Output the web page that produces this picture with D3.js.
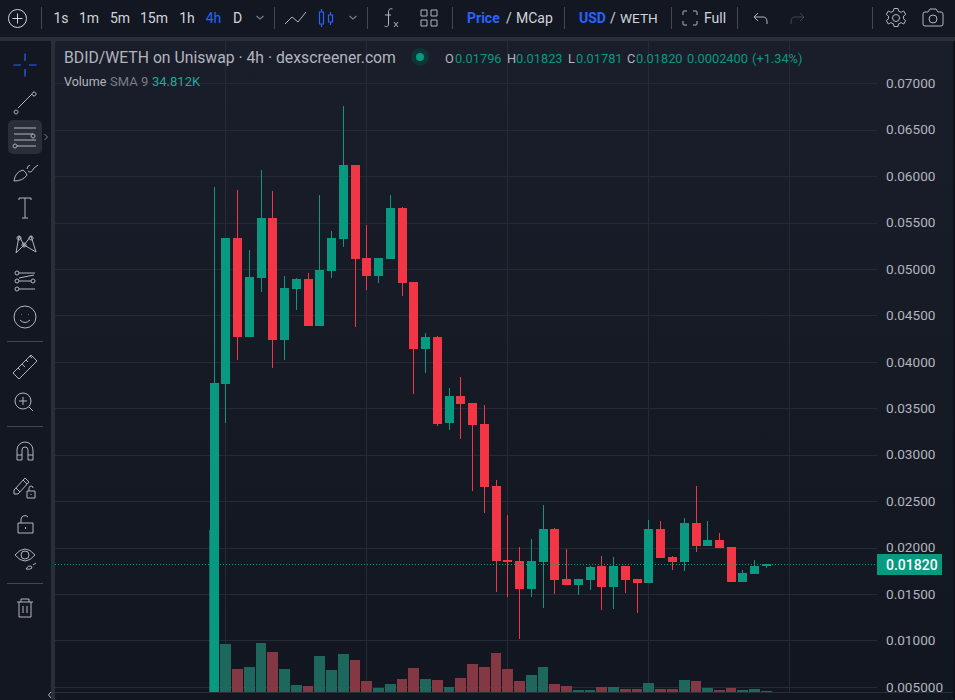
<!DOCTYPE html>
<html>
<head>
<meta charset="utf-8">
<script src="https://cdn.jsdelivr.net/npm/d3@7"></script>
<style>
  html, body { margin: 0; padding: 0; background: #2a2e39; overflow: hidden; }
  text { font-family: Roboto, sans-serif; }
</style>
</head>
<body>
<svg id="chart" width="955" height="700"></svg>
<script>
// BDID/WETH 4h candles
const opens = [0.00435,0.03759,0.05331,0.04265,0.04900,0.05546,0.04232,0.04782,0.04889,0.04383,0.04975,0.05320,0.06117,0.05115,0.04922,0.05105,0.05654,0.04857,0.04135,0.04265,0.03338,0.03629,0.03554,0.03328,0.02660,0.01863,0.01852,0.01551,0.01842,0.02197,0.01659,0.01594,0.01648,0.01799,0.01572,0.01799,0.01659,0.01615,0.02197,0.01895,0.01842,0.02262,0.02014,0.02079,0.02003,0.01626,0.01712,0.01796];
const highs = [0.05880,0.05331,0.05848,0.05202,0.06063,0.05837,0.04922,0.04900,0.04954,0.05793,0.05406,0.06752,0.06117,0.05471,0.05115,0.05794,0.05665,0.04857,0.04308,0.04275,0.03715,0.03834,0.03554,0.03532,0.02725,0.02348,0.02003,0.02089,0.02455,0.02208,0.01982,0.01659,0.01799,0.01906,0.01895,0.01799,0.01659,0.02294,0.02283,0.01906,0.02315,0.02655,0.02283,0.02154,0.02003,0.01755,0.01863,0.01823];
const lows = [0.00435,0.03340,0.04017,0.04265,0.04749,0.03931,0.04017,0.04555,0.04383,0.04383,0.04900,0.05234,0.04372,0.04771,0.04846,0.05105,0.04706,0.03651,0.03877,0.03306,0.03263,0.03166,0.02606,0.02369,0.01519,0.01465,0.01012,0.01465,0.01346,0.01497,0.01594,0.01486,0.01540,0.01325,0.01335,0.01508,0.01292,0.01615,0.01885,0.01755,0.01745,0.01949,0.02014,0.01992,0.01626,0.01626,0.01712,0.01781];
const closes = [0.03769,0.05331,0.04265,0.04911,0.05546,0.04232,0.04792,0.04889,0.04383,0.04986,0.05331,0.06117,0.05105,0.04922,0.05115,0.05654,0.04846,0.04135,0.04265,0.03328,0.03629,0.03543,0.03317,0.02649,0.01852,0.01842,0.01551,0.01852,0.02197,0.01648,0.01594,0.01659,0.01788,0.01572,0.01799,0.01648,0.01615,0.02197,0.01885,0.01842,0.02262,0.02014,0.02079,0.01992,0.01626,0.01723,0.01799,0.01820];
// volume in thousands
const volumes = [1207,358,171,186,365,298,171,52,45,268,164,283,238,82,30,60,97,179,97,89,37,104,209,186,291,171,82,127,186,60,45,15,15,37,37,22,22,67,22,22,89,82,30,15,30,15,22,7];

const priceTicks = [0.07,0.065,0.06,0.055,0.05,0.045,0.04,0.035,0.03,0.025,0.02,0.015,0.01,0.005];
const priceLabels = ["0.07000","0.06500","0.06000","0.05500","0.05000","0.04500","0.04000","0.03500","0.03000","0.02500","0.02000","0.01500","0.01000","0.005000"];
const timeGridIndex = [1,13,25,37,49];
const lastPrice = 0.0182;

const timeframes = [["1s",61],["1m",89],["5m",120],["15m",154],["1h",187],["4h",213.5],["D",237.5]];

const up = "#089981", down = "#f23645";
const volUp = "#1f6b60", volDown = "#8b3a47";
const axisText = "#b2b5be";

const svg = d3.select("#chart");

const defs = svg.append("defs");
const grad = defs.append("linearGradient").attr("id", "bg").attr("x1", 0).attr("x2", 0).attr("y1", 0).attr("y2", 1);
grad.append("stop").attr("offset", "0%").attr("stop-color", "#1a1e2a");
grad.append("stop").attr("offset", "100%").attr("stop-color", "#121620");
defs.append("clipPath").attr("id", "plot").append("rect").attr("x", 55).attr("y", 41).attr("width", 822).attr("height", 651);

// panels
svg.append("rect").attr("x", 0).attr("y", 0).attr("width", 955).attr("height", 37).attr("fill", "#131722");
svg.append("rect").attr("x", 0).attr("y", 41).attr("width", 51).attr("height", 659).attr("fill", "#131722");
svg.append("rect").attr("x", 55).attr("y", 41).attr("width", 898).attr("height", 659).attr("fill", "url(#bg)").attr("rx", 2);
svg.append("rect").attr("x", 953).attr("y", 41).attr("width", 2).attr("height", 659).attr("fill", "#0f1219");

const x = d3.scaleLinear().domain([1, 49]).range([225.5, 789.5]);
const y = d3.scaleLinear().domain([0.005, 0.07]).range([686.6, 83]);
const yVol = d3.scaleLinear().domain([0, 1207]).range([692, 530]);

const bodyLeft = i => Math.ceil(x(i) - 4.5);
const volLeft = i => Math.ceil(x(i) - 5.5);
const crisp = v => Math.round(v + 0.3) + 0.5;

// grid
const grid = svg.append("g").attr("stroke", "#262a35").attr("stroke-width", 1);
grid.selectAll("line.h").data(priceTicks).join("line").attr("class", "h")
    .attr("x1", 55).attr("x2", 877)
    .attr("y1", d => crisp(y(d))).attr("y2", d => crisp(y(d)));
grid.selectAll("line.v").data(timeGridIndex).join("line").attr("class", "v")
    .attr("x1", d => Math.floor(x(d)) + 0.5).attr("x2", d => Math.floor(x(d)) + 0.5)
    .attr("y1", 41).attr("y2", 692);

const plot = svg.append("g").attr("clip-path", "url(#plot)");

const idx = d3.range(opens.length);
const isUp = i => closes[i] >= opens[i];
const colorOf = i => isUp(i) ? up : down;

// volume
plot.append("g").selectAll("rect").data(idx).join("rect")
    .attr("x", volLeft)
    .attr("width", i => volLeft(i + 1) - volLeft(i) - 1)
    .attr("y", i => Math.round(yVol(volumes[i])))
    .attr("height", i => 692 - Math.round(yVol(volumes[i])))
    .attr("fill", i => isUp(i) ? volUp : volDown)
    .attr("opacity", 0.95);

// wicks
plot.append("g").selectAll("rect").data(idx).join("rect")
    .attr("x", i => bodyLeft(i) + 4)
    .attr("width", 1)
    .attr("y", i => Math.round(y(highs[i])))
    .attr("height", i => Math.round(y(lows[i])) - Math.round(y(highs[i])))
    .attr("fill", colorOf);

// bodies
plot.append("g").selectAll("rect").data(idx).join("rect")
    .attr("x", bodyLeft)
    .attr("width", 9)
    .attr("y", i => Math.round(y(Math.max(opens[i], closes[i]))))
    .attr("height", i => Math.max(1, Math.round(y(Math.min(opens[i], closes[i]))) - Math.round(y(Math.max(opens[i], closes[i])))))
    .attr("fill", colorOf);

// last price line
svg.append("line")
    .attr("x1", 55).attr("x2", 877)
    .attr("y1", Math.round(y(lastPrice)) + 0.5).attr("y2", Math.round(y(lastPrice)) + 0.5)
    .attr("stroke", up).attr("stroke-dasharray", "1 2");

// price axis
const priceAxis = svg.append("g").attr("transform", "translate(877,0)")
    .call(d3.axisRight(y).tickValues(priceTicks).tickSize(0).tickPadding(9)
        .tickFormat((d, i) => priceLabels[i]));
priceAxis.select(".domain").remove();
priceAxis.selectAll("text").attr("font-size", 13.6).attr("dy", "0.33em").attr("fill", axisText).style("font-family", "Roboto, sans-serif");

svg.append("rect").attr("x", 877).attr("y", Math.round(y(lastPrice)) - 10).attr("width", 65).attr("height", 21).attr("fill", up);
svg.append("text").attr("x", 886).attr("y", Math.round(y(lastPrice)) + 5.5).attr("font-size", 14).attr("font-weight", 500).attr("fill", "#fff").text(lastPrice.toFixed(5));

// bottom axis line
svg.append("rect").attr("x", 55).attr("y", 692).attr("width", 898).attr("height", 1).attr("fill", "#2a2e39");

// legend
const label = (tx, ty, str, size, fill, weight) => svg.append("text").attr("x", tx).attr("y", ty)
    .attr("font-size", size).attr("fill", fill).attr("font-weight", weight || 400).text(str);

label(64, 63, "BDID/WETH on Uniswap · 4h · dexscreener.com", 15.75, "#b2b5be");
svg.append("circle").attr("cx", 420).attr("cy", 57).attr("r", 9).attr("fill", "#0e3434");
svg.append("circle").attr("cx", 420).attr("cy", 57).attr("r", 4).attr("fill", up);
[["O", 445, "0.01796", 455], ["H", 507, "0.01823", 516], ["L", 568, "0.01781", 576], ["C", 627, "0.01820", 636]].forEach(d => {
    label(d[1], 63, d[0], 12.8, "#b2b5be");
    label(d[3], 63, d[2], 12.8, up);
});
label(687, 63, "0.0002400", 12.8, up);
label(752, 63, "(+1.34%)", 12.8, up);
label(64, 86, "Volume", 12.5, "#b2b5be");
label(110, 86, "SMA 9", 13, "#787b86");
label(152, 86, "34.812K", 13, "#26a69a");

// top toolbar
const textC = "#d1d4dc", blue = "#2962ff";
timeframes.forEach(d => {
    label(d[1], 23, d[0], 14, d[0] === "4h" ? blue : textC, 400).attr("text-anchor", "middle");
});
[41.5, 274.5, 367.5, 452.5, 564.5, 671.5, 737.5, 872.5].forEach(sx => {
    svg.append("rect").attr("x", Math.floor(sx)).attr("y", 7).attr("width", 1).attr("height", 22).attr("fill", "#434651");
});
label(467, 23, "Price", 14, blue, 700);
label(506, 23, "/", 14, textC);
label(516, 23, "MCap", 14, textC, 400);
label(579, 23, "USD", 14, blue, 700);
label(610, 23, "/", 14, textC);
label(620, 23, "WETH", 13.6, textC, 400);
label(704, 23, "Full", 14, textC, 400);

const icon = (tx, ty, d, stroke, sw) => svg.append("path").attr("transform", `translate(${tx},${ty})`)
    .attr("d", d).attr("fill", "none").attr("stroke", stroke || axisText).attr("stroke-width", sw || 1);

icon(17.5, 18.5, "M-9 0a9 9 0 1 0 18 0a9 9 0 1 0 -18 0M-5 0H5M0 -5V5", textC);
icon(260, 17, "M-3.5 -1L0 2L3.5 -1", "#787b86", 1.2);
icon(295, 18, "M-10 6L-3 -1L3 4L11 -6", axisText);
icon(326, 18, "M-6.5 -6h4v12h-4zM-4.5 -9v3M-4.5 6v3M2.5 -3h4v7h-4zM4.5 -6v3M4.5 4v3", blue, 1.2);
icon(353, 17, "M-3.5 -1L0 2L3.5 -1", "#787b86", 1.2);
icon(391, 18, "M1.5 -9c-3 -1 -4 1 -4 3v12c0 3 -2 3 -4 2M-6 -3h6M3 4l4 5M7 4l-4 5", axisText);
icon(429, 18, "M-8 -8h6v6h-6zM2 -8h6v6h-6zM-8 2h6v6h-6zM2 2h6v6h-6z", axisText);
icon(690, 18, "M-7 -3v-3q0 -1 1 -1h3M3 -7h3q1 0 1 1v3M7 3v3q0 1 -1 1h-3M-3 7h-3q-1 0 -1 -1v-3", axisText);
icon(760, 18, "M-6 -1H3q4 0 4 5v2M-2 -5L-6 -1L-2 3", axisText);
icon(798, 18, "M6 -1H-3q-4 0 -4 5v2M2 -5L6 -1L2 3", "#434651");
icon(896, 18, "M-2 -9.5h4l.7 2.8l2.4 1l2.6 -1.3l2 3.4l-2.2 1.8v2.6l2.2 1.8l-2 3.4l-2.6 -1.3l-2.4 1l-.7 2.8h-4l-.7 -2.8l-2.4 -1l-2.6 1.3l-2 -3.4l2.2 -1.8v-2.6l-2.2 -1.8l2 -3.4l2.6 1.3l2.4 -1zM-3.5 0a3.5 3.5 0 1 0 7 0a3.5 3.5 0 1 0 -7 0", axisText);
icon(933, 18, "M-8 -6h3l2 -3h6l2 3h3q2 0 2 2v10q0 2 -2 2h-16q-2 0 -2 -2v-10q0 -2 2 -2zM-4 1a4 4 0 1 0 8 0a4 4 0 1 0 -8 0", axisText);

// left toolbar
svg.append("rect").attr("x", 8).attr("y", 120).attr("width", 34).attr("height", 34).attr("rx", 5).attr("fill", "#2a2e39");
[[7, 341], [7, 426], [7, 583]].forEach(d => {
    svg.append("rect").attr("x", d[0]).attr("y", d[1]).attr("width", 36).attr("height", 1).attr("fill", "#434651");
});
icon(25, 65, "M-11.5 0H-4M4 0H11.5M0 -11.5V-4M0 4V11.5", blue, 1.2);
icon(25, 101, "M-7 7L7 -7M-9 9a2 2 0 1 0 .1 0M9 -9a2 2 0 1 0 .1 0", axisText);
icon(25, 137, "M-11 -9H11M-11 -3H8M-11 3H11M-8 9H11M8 -3a2 2 0 1 0 .1 0M-10 7a2 2 0 1 0 .1 0", axisText);
icon(25, 173, "M-11 8q1 -9 9 -11q3 2 4 5q-4 6 -13 6zM3 -2q3 3 6 -3l4 -3M2 -4q0 -3 3 -4", axisText);
icon(25, 208, "M-6 -8V-10H6V-8M0 -10V10M-3 10H3", axisText);
icon(25, 244, "M-9 9L-6 -8L-1 1L6 -8L11 8L-1 1L-9 9M-6 -8a2 2 0 1 0 .1 0M6 -8a2 2 0 1 0 .1 0M-1 -1a2 2 0 1 0 .1 0", axisText);
icon(25, 281, "M-8 -8H10M-8 0H8M-8 8H10M-6 -3L9 -6", axisText);
svg.append("g").selectAll("circle").data([[17, 273], [17, 281], [17, 289], [33, 281]]).join("circle")
    .attr("cx", d => d[0]).attr("cy", d => d[1]).attr("r", 2).attr("fill", "#131722").attr("stroke", axisText);
icon(25, 317, "M-11 0a11 11 0 1 0 22 0a11 11 0 1 0 -22 0M-5 3q5 5 10 0M-3.5 -2.5h.5M3 -2.5h.5", axisText);
icon(25, 367, "M-12 6L6 -12L12 -6L-6 12ZM-7 1l2 2M-3 -3l3 3M1 -7l2 2M5 -11l2 2", axisText);
icon(23, 401, "M-8 0a8 8 0 1 0 16 0a8 8 0 1 0 -16 0M-4 0H4M0 -4V4M6 6L10 10", axisText);
icon(25, 451, "M-8 9V-1a8 8 0 0 1 16 0V9H3V-1a3 3 0 0 0 -6 0V9ZM-8 4H-3M3 4H8", axisText);
icon(22, 485, "M-8 9V5L3 -7L7 -3L-4 9ZM1 -5L5 -1M-6 3L-2 7", axisText);
icon(31, 491, "M-4 0h8v7h-8zM-2 0v-3a2 2 0 0 1 4 0M0 3v1", axisText);
icon(25, 524, "M-7 -1h15v10h-15zM-4 -1v-4a4 4 0 0 1 7 -2M0.5 3v2", axisText);
icon(25, 555, "M-10 0q10 -12 20 0q-10 12 -20 0M-4 0a4 4 0 1 0 8 0a4 4 0 1 0 -8 0", axisText);
icon(31, 566, "M-5 3q2 -4 5 -3l1 2q-2 2 -6 1zM2 -1l3 -2", axisText);
icon(25, 608, "M-8 -6H8M-4 -6V-9H4V-6M-6 -6V9H6V-6M-2 -2V5M2 -2V5", axisText);
icon(46, 137, "M-1.5 -3L1.5 0L-1.5 3", "#787b86");
icon(50, 695, "M1 -3L-1.5 0L1 3", axisText);
</script>
</body>
</html>
